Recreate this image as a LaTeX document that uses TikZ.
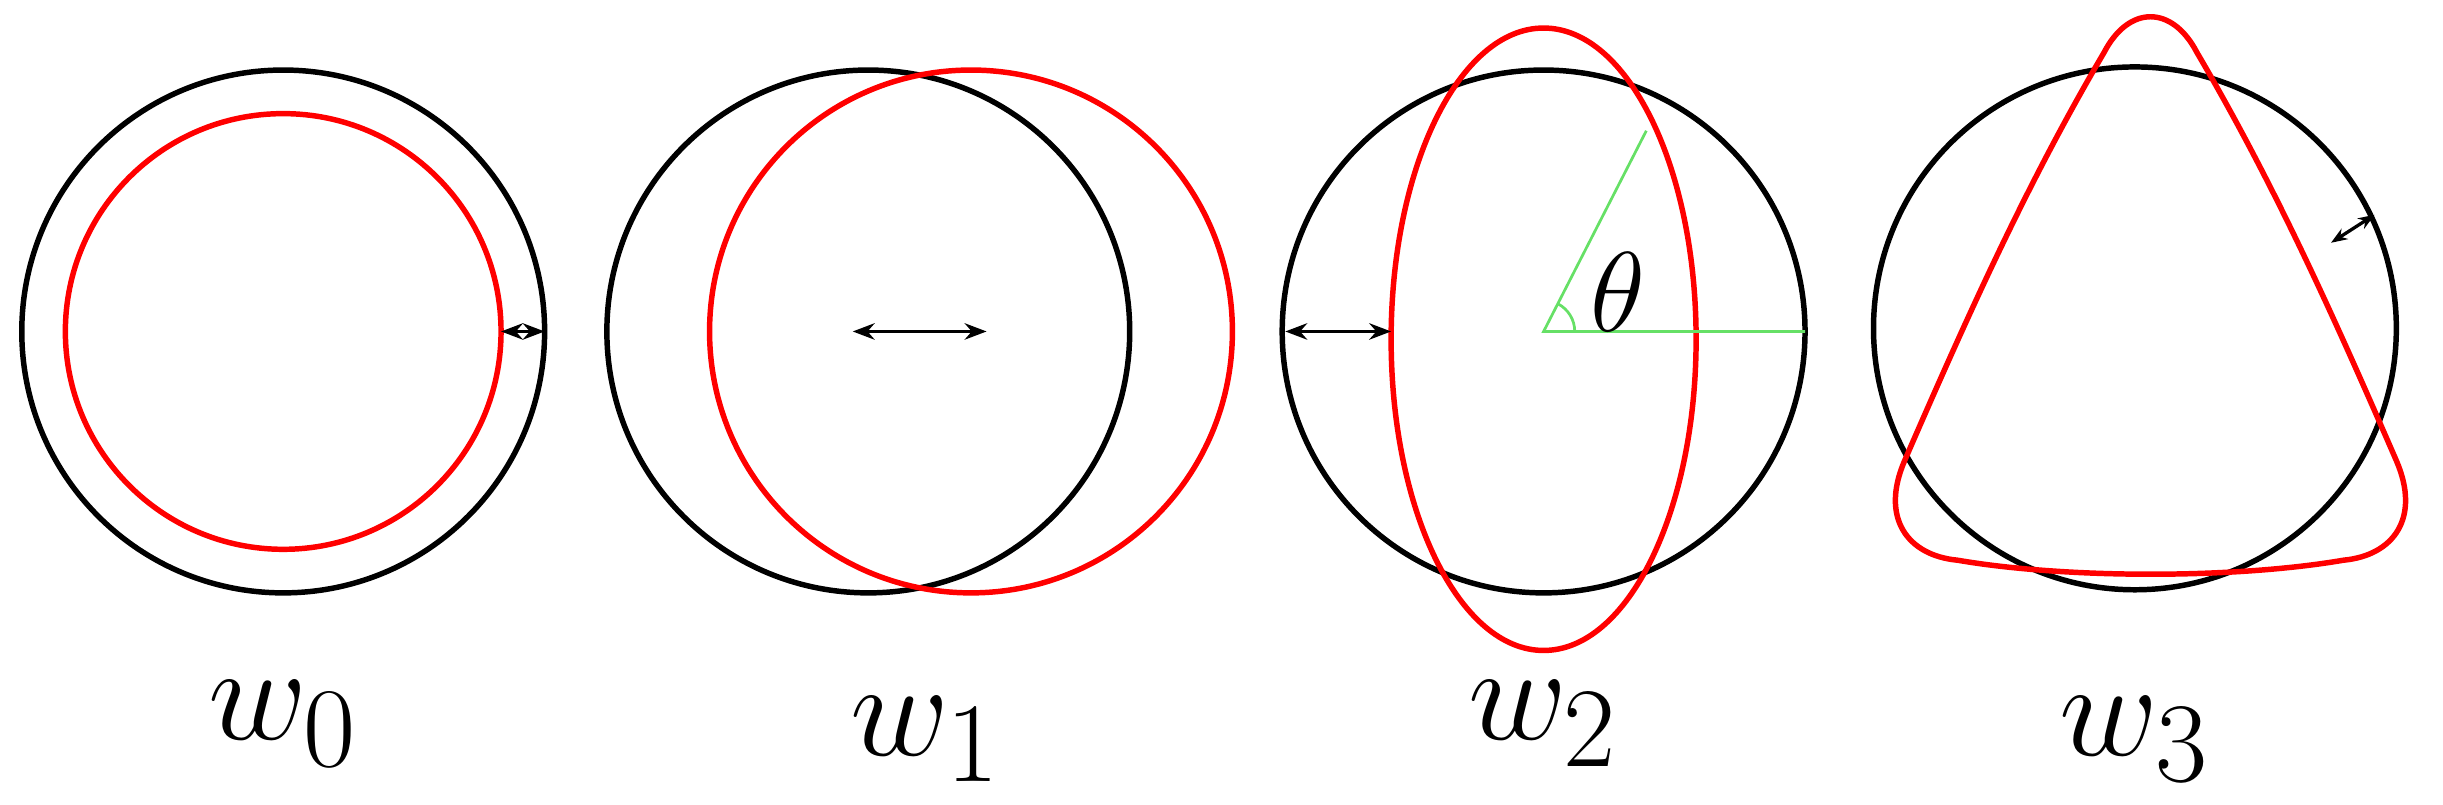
\documentclass[tikz,border=0pt]{standalone}
\usetikzlibrary{arrows.meta}
\begin{document}
\begin{tikzpicture}[x=0.01cm,y=-0.01cm,
  blk/.style={black,line width=1pt},
  rd/.style={red,line width=1pt},
  dbl/.style={{Stealth[length=4pt]}-{Stealth[length=4pt]},line width=0.6pt},
  dbls/.style={{Stealth[length=3pt]}-{Stealth[length=3pt]},line width=0.6pt},
  grn/.style={green!60!black!50!green!60,line width=0.5pt},
  lab/.style={font=\fontsize{30}{32}\selectfont}]
\useasboundingbox (0,0) rectangle (1570,517);
% w0
\draw[blk] (182,213) circle[radius=168];
\draw[rd] (182,213) circle[radius=140];
\coordinate (a1) at (322,213); \coordinate (a2) at (350,213);
\draw[dbl] (a1) -- (a2);
\node[lab] (l0) at (182,465) {$w_0$};
% w1
\draw[blk] (558,213) circle[radius=168];
\draw[rd] (624,213) circle[radius=168];
\coordinate (b1) at (548,213); \coordinate (b2) at (634,213);
\draw[dbl] (b1) -- (b2);
\node[lab] (l1) at (595,475) {$w_1$};
% w2
\draw[blk] (992,213) circle[radius=168];
\draw[rd] (992,218) ellipse[x radius=98,y radius=200];
\coordinate (c0) at (992,213); \coordinate (c1) at (1160,213); \coordinate (c2) at (1058,84);
\draw[grn] (c1) -- (c0) -- (c2);
\draw[grn] (1012,213) arc[start angle=0,end angle=-63,radius=20];
\node[font=\fontsize{20}{22}\selectfont] (th) at (1040,188) {$\theta$};
\coordinate (d1) at (826,213); \coordinate (d2) at (894,213);
\draw[dbl] (d1) -- (d2);
\node[lab] (l2) at (992,465) {$w_2$};
% w3
\draw[blk] (1372,211) circle[radius=168];
\draw[rd] (1352,34) .. controls (1368,3) and (1396,3) .. (1412,34)
  .. controls (1462,119) and (1500,204) .. (1540,296)
  .. controls (1556,333) and (1538,357) .. (1506,360)
  .. controls (1436,372) and (1328,372) .. (1258,360)
  .. controls (1226,357) and (1208,333) .. (1224,296)
  .. controls (1264,204) and (1302,119) .. cycle;
\coordinate (e1) at (1498,156); \coordinate (e2) at (1526,138);
\draw[dbls] (e1) -- (e2);
\node[lab] (l3) at (1372,475) {$w_3$};
\end{tikzpicture}
\end{document}
